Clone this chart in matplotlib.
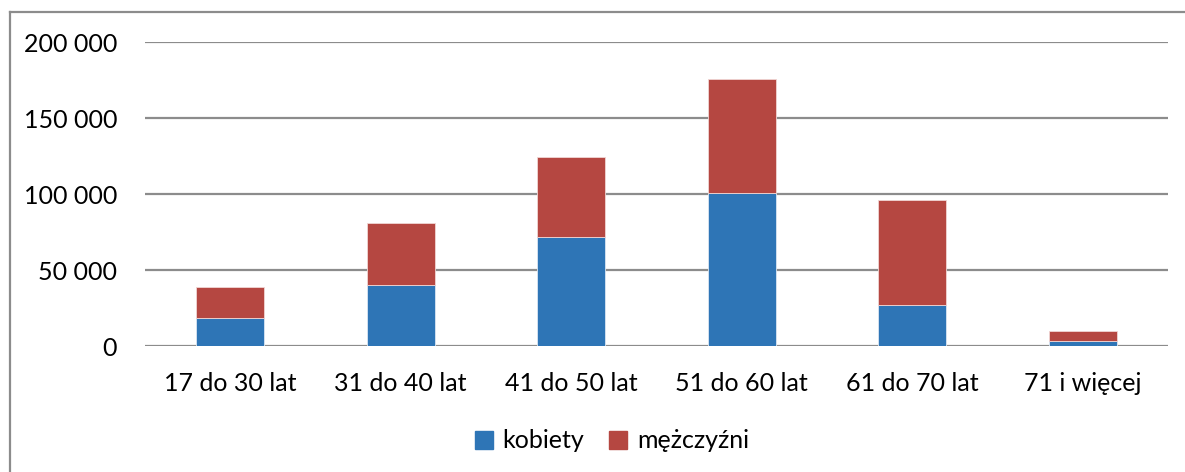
import matplotlib.pyplot as plt
import numpy as np
from matplotlib.patches import Patch
from matplotlib.lines import Line2D

plt.rcParams["font.family"] = ["Lato", "DejaVu Sans"]
FONTSIZE = 18

categories = ["17 do 30 lat", "31 do 40 lat", "41 do 50 lat",
              "51 do 60 lat", "61 do 70 lat", "71 i więcej"]
kobiety = [18200, 40000, 71500, 100500, 26800, 3500]
mezczyzni = [20800, 41200, 53000, 75300, 69100, 6400]

BLUE = "#2E75B6"
RED = "#B54741"
GRID = "#8c8c8c"

fig = plt.figure(figsize=(11.85, 4.72), dpi=100)
ax = fig.add_axes([145 / 1185, 1 - 346 / 472, (1168 - 145) / 1185, (346 - 42.3) / 472])

x = np.arange(len(categories))
ax.bar(x, kobiety, width=0.4, color=BLUE, edgecolor="#dbe6f2", linewidth=0.6, zorder=3)
ax.bar(x, mezczyzni, width=0.4, bottom=kobiety, color=RED, edgecolor="#f0d6d4",
       linewidth=0.6, zorder=3)

ax.set_xlim(-0.5, len(categories) - 0.5)
ax.set_ylim(0, 200000)
ax.set_yticks(range(0, 200001, 50000))
ax.set_yticklabels([f"{v:,}".replace(",", " ") for v in range(0, 200001, 50000)])
ax.set_xticks(x)
ax.set_xticklabels(categories)
ax.tick_params(axis="both", length=0, labelsize=FONTSIZE, colors="black")
ax.tick_params(axis="y", pad=20)
ax.tick_params(axis="x", pad=19)
ax.yaxis.grid(True, color=GRID, linewidth=1.6, zorder=0)
for s in ax.spines.values():
    s.set_visible(False)

# outer chart border (left and top only visible)
fig.add_artist(Line2D([10 / 1185, 10 / 1185], [0, 1 - 12 / 472], color="#8c8c8c",
                      lw=1.6, transform=fig.transFigure))
fig.add_artist(Line2D([10 / 1185, 1], [1 - 12 / 472, 1 - 12 / 472], color="#8c8c8c",
                      lw=1.6, transform=fig.transFigure))

handles = [Patch(color=BLUE, label="kobiety"), Patch(color=RED, label="mężczyźni")]
fig.legend(handles=handles, loc="center", bbox_to_anchor=(612 / 1185, 1 - 441 / 472),
           ncol=2, frameon=False, fontsize=FONTSIZE, handlelength=0.7, handleheight=0.7,
           handletextpad=0.4, columnspacing=1.0)

fig.savefig("out.png", dpi=100)
